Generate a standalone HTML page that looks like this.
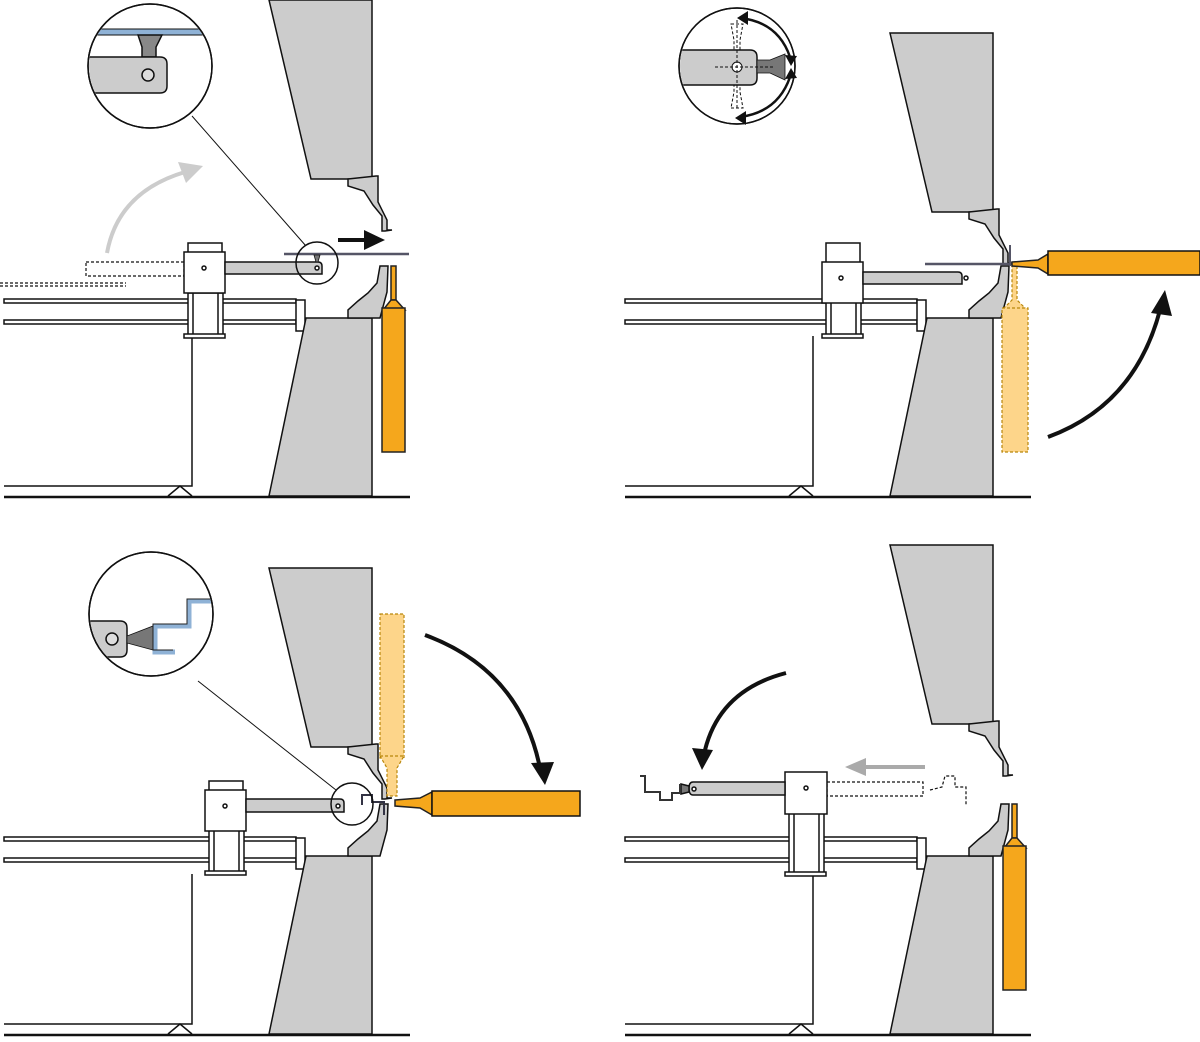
<!DOCTYPE html>
<html><head><meta charset="utf-8"><style>html,body{margin:0;padding:0;background:#fff}svg{display:block}</style></head>
<body>
<svg width="1200" height="1042" viewBox="0 0 1200 1042" xmlns="http://www.w3.org/2000/svg" stroke-linejoin="miter">
<defs>
<clipPath id="c1"><circle cx="150" cy="66" r="61"/></clipPath>
<clipPath id="c2"><circle cx="737" cy="66" r="57"/></clipPath>
<clipPath id="c3"><circle cx="151" cy="614" r="61"/></clipPath>
<g id="static" stroke="#111" stroke-width="1.5">
  <rect x="4" y="299" width="292" height="4" fill="#fff"/>
  <rect x="4" y="320" width="292" height="4" fill="#fff"/>
  <rect x="296" y="300" width="9" height="31" fill="#fff"/>
  <path d="M4,486 H192 V336" fill="none"/>
  <path d="M168,496 L180,486 L192,496" fill="#fff"/>
  <line x1="4" y1="497" x2="410" y2="497" stroke-width="2.5"/>
  <polygon points="306,318 372,318 372,496 269,496" fill="#ccc"/>
  <path d="M348,318 L348,310 L358,301 L368,293 L377,283 L380,266 L388,266 L387,292 L380,318 Z" fill="#ccc"/>
</g>
<g id="beam" stroke="#111" stroke-width="1.5">
  <polygon points="269,0 372,0 372,179 311,179" fill="#ccc"/>
  <path d="M348,179 L376,176 L378,176 L378,202 L387,220 L387,230 L392,230 L385,231 L382,231 L382,216 L373,205 L364,191 L348,186 Z" fill="#ccc"/>
</g>
<g id="orangeV" stroke="#222" stroke-width="1.5" fill="#f5a71c">
  <rect x="391" y="266" width="5" height="34"/>
  <polygon points="391,300 396,300 405,310 383,310"/>
  <rect x="382" y="308" width="23" height="144"/>
</g>
</defs>

<!-- ===== TOP LEFT ===== -->
<use href="#static"/>
<use href="#beam"/>
<use href="#orangeV"/>
<g fill="none" stroke="#111" stroke-width="1.2" stroke-dasharray="3,2">
  <rect x="86" y="262" width="98" height="14"/>
  <line x1="0" y1="283" x2="126" y2="283"/><line x1="0" y1="286" x2="126" y2="286"/>
</g>
<g stroke="#111" stroke-width="1.5">
  <rect x="188" y="293" width="35" height="42" fill="#fff"/>
  <line x1="193" y1="293" x2="193" y2="335"/><line x1="218" y1="293" x2="218" y2="335"/>
  <rect x="184" y="334" width="41" height="4" fill="#fff"/>
  <rect x="188" y="243" width="34" height="10" fill="#fff"/>
  <rect x="184" y="252" width="41" height="41" fill="#fff"/>
  <circle cx="204" cy="268" r="2" fill="#fff"/>
  <path d="M225,262 H318 Q322,262 322,266 V274 H225 Z" fill="#ccc"/>
  <circle cx="317" cy="268" r="2" fill="#fff"/>
  <line x1="284" y1="254" x2="409" y2="254" stroke="#556" stroke-width="2.5"/>
  <polygon points="314,255 320,255 318,262 316,262" fill="#777" stroke-width="0.8"/>
  <circle cx="317" cy="263" r="21" fill="none"/>
  <line x1="192" y1="116" x2="306" y2="246" stroke-width="1"/>
  <circle cx="150" cy="66" r="62" fill="#fff"/>
  <g clip-path="url(#c1)">
  <line x1="80" y1="32" x2="220" y2="32" stroke="#8fb2d6" stroke-width="5"/>
  <line x1="80" y1="29" x2="220" y2="29" stroke-width="1"/><line x1="80" y1="35" x2="220" y2="35" stroke-width="1"/>
  <polygon points="138,35 162,35 156,47 156,57 142,57 142,47" fill="#888"/>
  <path d="M80,57 H160 Q167,57 167,64 V86 Q167,93 160,93 H80" fill="#ccc"/>
  <circle cx="148" cy="75" r="6" fill="#ddd"/>
  </g>
  <circle cx="150" cy="66" r="62" fill="none"/>
</g>
<path d="M107,253 Q118,192 185,172" fill="none" stroke="#ccc" stroke-width="4"/>
<polygon points="203,166 178,162 186,183" fill="#ccc"/>
<line x1="338" y1="240" x2="366" y2="240" stroke="#111" stroke-width="4"/>
<polygon points="364,230 385,240 364,250" fill="#111"/>

<!-- ===== TOP RIGHT ===== -->
<g transform="translate(621,0)"><use href="#static"/></g>
<g transform="translate(621,33)"><use href="#beam"/></g>
<g fill="#fdd58a" stroke="#b8860b" stroke-width="1.2" stroke-dasharray="3,2">
  <polygon points="1012,266 1017,266 1017,300 1027,310 1002,310 1012,300"/>
  <rect x="1002" y="308" width="26" height="144"/>
</g>
<g stroke="#111" stroke-width="1.5">
  <rect x="826" y="302" width="35" height="33" fill="#fff"/>
  <line x1="831" y1="302" x2="831" y2="335"/><line x1="856" y1="302" x2="856" y2="335"/>
  <rect x="822" y="334" width="41" height="4" fill="#fff"/>
  <rect x="826" y="243" width="34" height="20" fill="#fff"/>
  <rect x="822" y="262" width="41" height="41" fill="#fff"/>
  <circle cx="841" cy="278" r="2" fill="#fff"/>
  <path d="M863,272 H958 Q962,272 962,276 V284 H863 Z" fill="#ccc"/>
  <circle cx="966" cy="278" r="2" fill="#fff"/>
  <line x1="925" y1="264" x2="1015" y2="264" stroke="#556" stroke-width="2.5"/>
  <line x1="1010" y1="245" x2="1010" y2="266" stroke="#556" stroke-width="2"/>
  <polygon points="1012,262 1038,260 1048,254 1048,274 1038,268 1012,266" fill="#f5a71c" stroke="#222"/>
  <rect x="1048" y="251" width="152" height="24" fill="#f5a71c"/>
  <circle cx="737" cy="66" r="58" fill="#fff"/>
  <g clip-path="url(#c2)">
  <path d="M670,50 H750 Q757,50 757,57 V78 Q757,85 750,85 H670" fill="#ccc"/>
  <polygon points="757,60 770,60 785,54 785,80 770,73 757,73" fill="#777" stroke-width="0.8"/>
  <circle cx="737" cy="67" r="5" fill="#fff" stroke-width="1"/>
  <g stroke-dasharray="3,2" fill="none" stroke-width="1">
    <line x1="737" y1="20" x2="737" y2="108"/><line x1="715" y1="67" x2="775" y2="67"/>
    <polygon points="731,24 743,24 740,40 740,50 734,50 734,40"/>
    <polygon points="731,108 743,108 740,92 740,85 734,85 734,92"/>
  </g>
  </g>
  <circle cx="737" cy="66" r="58" fill="none"/>
  <path d="M740,18 Q778,22 790,57" fill="none" stroke-width="2.5"/>
  <path d="M790,77 Q778,112 740,117" fill="none" stroke-width="2.5"/>
</g>
<polygon points="737,18 748,11 748,25" fill="#111"/>
<polygon points="785,55 797,56 791,66" fill="#111"/>
<polygon points="785,79 797,78 791,68" fill="#111"/>
<polygon points="735,118 746,111 746,125" fill="#111"/>
<path d="M1048,437 Q1135,405 1160,310" fill="none" stroke="#111" stroke-width="4"/>
<polygon points="1165,290 1151,313 1172,316" fill="#111"/>

<!-- ===== BOTTOM LEFT ===== -->
<g transform="translate(0,538)"><use href="#static"/></g>
<g transform="translate(0,568)"><use href="#beam"/></g>
<g fill="#fdd58a" stroke="#b8860b" stroke-width="1.2" stroke-dasharray="3,2">
  <rect x="380" y="614" width="24" height="144"/>
  <polygon points="380,756 404,756 397,768 397,796 387,796 387,768"/>
</g>
<g stroke="#111" stroke-width="1.5">
  <rect x="209" y="830" width="35" height="42" fill="#fff"/>
  <line x1="214" y1="830" x2="214" y2="872"/><line x1="239" y1="830" x2="239" y2="872"/>
  <rect x="205" y="871" width="41" height="4" fill="#fff"/>
  <rect x="209" y="781" width="34" height="10" fill="#fff"/>
  <rect x="205" y="790" width="41" height="41" fill="#fff"/>
  <circle cx="225" cy="806" r="2" fill="#fff"/>
  <path d="M246,799 H340 Q344,799 344,803 V812 H246 Z" fill="#ccc"/>
  <circle cx="338" cy="806" r="2" fill="#fff"/>
  <path d="M362,805 V795 H372 V802 H384 V815" fill="none" stroke="#334" stroke-width="2"/>
  <polygon points="395,800 420,798 432,792 432,815 420,808 395,806" fill="#f5a71c" stroke="#222"/>
  <rect x="432" y="791" width="148" height="25" fill="#f5a71c"/>
  <circle cx="352" cy="804" r="21" fill="none"/>
  <line x1="198" y1="681" x2="336" y2="790" stroke-width="1"/>
  <circle cx="151" cy="614" r="62" fill="#fff"/>
  <g clip-path="url(#c3)">
  <path d="M80,621 H120 Q127,621 127,628 V650 Q127,657 120,657 H80" fill="#ccc"/>
  <circle cx="112" cy="639" r="6" fill="#ddd"/>
  <polygon points="127,636 153,626 153,650 127,643" fill="#777" stroke-width="0.8"/>
  <path d="M175,652 H155 V626 H189 V601 H215" fill="none" stroke="#8fb2d6" stroke-width="5"/>
  <path d="M175,652 H155 V626 H189 V601 H215" fill="none" stroke="#222" stroke-width="1" transform="translate(-2,-2)"/>
  </g>
  <circle cx="151" cy="614" r="62" fill="none"/>
</g>
<path d="M425,635 Q520,670 540,768" fill="none" stroke="#111" stroke-width="4"/>
<polygon points="545,785 531,763 554,762" fill="#111"/>

<!-- ===== BOTTOM RIGHT ===== -->
<g transform="translate(621,538)"><use href="#static"/><use href="#orangeV"/></g>
<g transform="translate(621,545)"><use href="#beam"/></g>
<g fill="none" stroke="#111" stroke-width="1.2" stroke-dasharray="3,2">
  <rect x="827" y="782" width="96" height="14"/>
  <path d="M930,790 L942,787 L945,776 L955,776 L955,787 L966,787 L966,805"/>
</g>
<g stroke="#111" stroke-width="1.5">
  <rect x="789" y="813" width="35" height="60" fill="#fff"/>
  <line x1="794" y1="813" x2="794" y2="873"/><line x1="819" y1="813" x2="819" y2="873"/>
  <rect x="785" y="872" width="41" height="4" fill="#fff"/>
  <rect x="785" y="772" width="42" height="42" fill="#fff"/>
  <circle cx="806" cy="788" r="2" fill="#fff"/>
  <path d="M785,782 H693 Q689,782 689,788 Q689,795 693,795 H785 Z" fill="#ccc"/>
  <circle cx="694" cy="789" r="2" fill="#fff"/>
  <polygon points="681,784 689,786 689,792 681,794" fill="#777"/>
  <path d="M680,784 V793 H672 V800 H660 V792 H645 V776 H640" fill="none" stroke="#333" stroke-width="2"/>
</g>
<line x1="860" y1="767" x2="925" y2="767" stroke="#aaa" stroke-width="4"/>
<polygon points="845,767 866,758 866,776" fill="#aaa"/>
<path d="M786,673 Q720,690 705,750" fill="none" stroke="#111" stroke-width="4"/>
<polygon points="702,770 692,748 713,750" fill="#111"/>
</svg>
</body></html>
